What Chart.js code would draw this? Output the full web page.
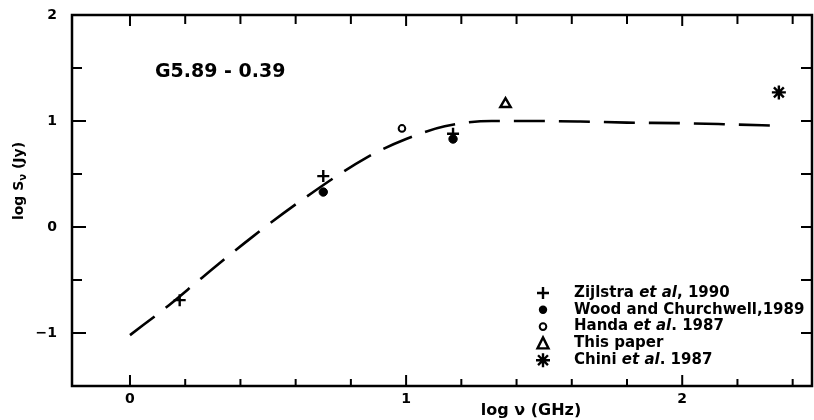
<!DOCTYPE html>
<html>
<head>
<meta charset="utf-8">
<script src="https://cdn.jsdelivr.net/npm/chart.js@4/dist/chart.umd.min.js"></script>
<style>
  html, body { margin: 0; padding: 0; background: #fff; }
  #wrap { width: 814px; height: 420px; }
</style>
</head>
<body>
<div id="wrap"><canvas id="chart"></canvas></div>
<script>
// fitted spectrum (dashed curve)
const fitLogNu = [0, 0.14, 0.26, 0.44, 0.62, 0.86, 1.0, 1.14, 1.31, 1.46, 1.63, 1.80, 1.98, 2.15, 2.36];
const fitLogS  = [-1.02, -0.74, -0.48, -0.10, 0.25, 0.66, 0.83, 0.95, 1.00, 1.00, 0.995, 0.985, 0.98, 0.97, 0.955];

// measurements
const zijNu = [0.18, 0.70, 1.17];
const zijS  = [-0.69, 0.48, 0.88];
const woodNu = [0.70, 1.17];
const woodS  = [0.33, 0.83];
const handaNu = [0.985];
const handaS  = [0.93];
const thisNu = [1.36];
const thisS  = [1.16];
const chiniNu = [2.35];
const chiniS  = [1.27];

const xTickLabels = [0, 1, 2];
const yTickLabels = [-1, 0, 1, 2];

const FONT = "'DejaVu Sans', sans-serif";

function pts(xs, ys) {
  return xs.map((x, i) => ({ x: x, y: ys[i] }));
}

// legend rows: [symbol, [text, italic?]...]
const legendRows = [
  ["cross",    [["Zijlstra ", false], ["et al", true], [", 1990", false]]],
  ["dot",      [["Wood and Churchwell,1989", false]]],
  ["ring",     [["Handa ", false], ["et al", true], [". 1987", false]]],
  ["triangle", [["This paper", false]]],
  ["star",     [["Chini ", false], ["et al", true], [". 1987", false]]],
];

function drawSymbol(ctx, kind, x, y) {
  ctx.save();
  ctx.strokeStyle = "#000";
  ctx.fillStyle = "#000";
  ctx.lineWidth = 2.4;
  ctx.beginPath();
  if (kind === "cross") {
    ctx.moveTo(x - 6, y); ctx.lineTo(x + 6, y);
    ctx.moveTo(x, y - 6); ctx.lineTo(x, y + 6);
    ctx.stroke();
  } else if (kind === "dot") {
    ctx.arc(x, y, 4.2, 0, Math.PI * 2);
    ctx.fill();
  } else if (kind === "ring") {
    ctx.lineWidth = 2;
    ctx.arc(x, y, 3.3, 0, Math.PI * 2);
    ctx.stroke();
  } else if (kind === "triangle") {
    ctx.moveTo(x, y - 6); ctx.lineTo(x + 5.5, y + 5); ctx.lineTo(x - 5.5, y + 5);
    ctx.closePath();
    ctx.stroke();
  } else if (kind === "star") {
    for (let k = 0; k < 4; k++) {
      const a = k * Math.PI / 4;
      ctx.moveTo(x - 7 * Math.cos(a), y - 7 * Math.sin(a));
      ctx.lineTo(x + 7 * Math.cos(a), y + 7 * Math.sin(a));
    }
    ctx.stroke();
  }
  ctx.restore();
}

const framePlugin = {
  id: "frame",
  afterDraw(chart) {
    const ctx = chart.ctx;
    const a = chart.chartArea;
    const xs = chart.scales.x, ys = chart.scales.y;
    ctx.save();
    ctx.strokeStyle = "#000";
    ctx.lineWidth = 2.5;
    ctx.strokeRect(a.left, a.top, a.right - a.left, a.bottom - a.top);

    // inward ticks
    ctx.lineWidth = 2;
    ctx.beginPath();
    for (let v = 0; v <= 2.41; v += 0.2) {
      const px = xs.getPixelForValue(v);
      const major = Math.abs(v - Math.round(v)) < 1e-6;
      ctx.moveTo(px, a.bottom); ctx.lineTo(px, a.bottom - (major ? 11 : 7));
      ctx.moveTo(px, a.top); ctx.lineTo(px, a.top + (major ? 11 : 9));
    }
    for (let v = -1; v <= 1.51; v += 0.5) {
      const py = ys.getPixelForValue(v);
      const major = Math.abs(v - Math.round(v)) < 1e-6;
      ctx.moveTo(a.left, py); ctx.lineTo(a.left + (major ? 14 : 10), py);
      ctx.moveTo(a.right, py); ctx.lineTo(a.right - 11, py);
    }
    ctx.stroke();

    // source name
    ctx.fillStyle = "#000";
    ctx.textBaseline = "middle";
    ctx.textAlign = "left";
    ctx.font = "bold 19px " + FONT;
    ctx.fillText("G5.89 - 0.39", 155, 72);

    // y axis title, rotated
    ctx.save();
    ctx.translate(19, 181);
    ctx.rotate(-Math.PI / 2);
    ctx.font = "bold 14px " + FONT;
    const t1 = "log S";
    const w1 = ctx.measureText(t1).width;
    ctx.font = "bold 10px " + FONT;
    const w2 = ctx.measureText("ν").width;
    ctx.font = "bold 14px " + FONT;
    const t3 = " (Jy)";
    const w3 = ctx.measureText(t3).width;
    let sx = -(w1 + w2 + w3) / 2;
    ctx.fillText(t1, sx, 0);
    ctx.font = "bold 10px " + FONT;
    ctx.fillText("ν", sx + w1, 4);
    ctx.font = "bold 14px " + FONT;
    ctx.fillText(t3, sx + w1 + w2, 0);
    ctx.restore();

    // x axis title
    ctx.font = "bold 16px " + FONT;
    ctx.textAlign = "center";
    ctx.fillText("log ν (GHz)", 531, 411);

    // legend
    ctx.textAlign = "left";
    legendRows.forEach((row, i) => {
      const y = 293 + i * 16.8;
      drawSymbol(ctx, row[0], 543, y);
      let x = 574;
      row[1].forEach(part => {
        ctx.font = (part[1] ? "italic " : "") + "bold 15px " + FONT;
        ctx.fillText(part[0], x, y);
        x += ctx.measureText(part[0]).width;
      });
    });
    ctx.restore();
  }
};

const canvas = document.getElementById("chart").getContext("2d");

const data = {
  datasets: [
    {
      type: "line",
      label: "fit",
      data: pts(fitLogNu, fitLogS),
      borderColor: "#000",
      borderWidth: 2.6,
      borderDash: [31, 14],
      pointRadius: 0,
      fill: false,
      cubicInterpolationMode: "monotone",
    },
    {
      label: "Zijlstra et al, 1990",
      data: pts(zijNu, zijS),
      pointStyle: "cross",
      radius: 6,
      borderColor: "#000",
      borderWidth: 2.4,
    },
    {
      label: "Wood and Churchwell,1989",
      data: pts(woodNu, woodS),
      pointStyle: "circle",
      radius: 4.2,
      backgroundColor: "#000",
      borderColor: "#000",
      borderWidth: 1,
    },
    {
      label: "Handa et al. 1987",
      data: pts(handaNu, handaS),
      pointStyle: "circle",
      radius: 3.3,
      backgroundColor: "#fff",
      borderColor: "#000",
      borderWidth: 2,
    },
    {
      label: "This paper",
      data: pts(thisNu, thisS),
      pointStyle: "triangle",
      radius: 6,
      backgroundColor: "#fff",
      borderColor: "#000",
      borderWidth: 2.4,
    },
    {
      label: "Chini et al. 1987",
      data: pts(chiniNu, chiniS),
      pointStyle: "star",
      radius: 7,
      borderColor: "#000",
      borderWidth: 2.4,
    },
  ],
};

const config = {
  type: "scatter",
  data: data,
  options: {
    responsive: true,
    maintainAspectRatio: false,
    animation: false,
    layout: { autoPadding: false, padding: { top: 15, right: 2, left: 0, bottom: 0 } },
    plugins: {
      legend: { display: false },
      tooltip: { enabled: false },
    },
    scales: {
      x: {
        type: "linear",
        min: -0.21,
        max: 2.47,
        afterFit: s => { s.height = 34; s.paddingLeft = 0; s.paddingRight = 0; },
        afterBuildTicks: s => { s.ticks = xTickLabels.map(v => ({ value: v })); },
        grid: { display: false, drawTicks: false },
        border: { display: false },
        ticks: {
          color: "#000",
          padding: 5,
          maxRotation: 0,
          font: { family: FONT, size: 14, weight: "bold" },
          callback: v => String(v),
        },
      },
      y: {
        type: "linear",
        min: -1.5,
        max: 2,
        afterFit: s => { s.width = 72; s.paddingTop = 0; s.paddingBottom = 0; },
        afterBuildTicks: s => { s.ticks = yTickLabels.map(v => ({ value: v })); },
        grid: { display: false, drawTicks: false },
        border: { display: false },
        ticks: {
          color: "#000",
          padding: 15,
          font: { family: FONT, size: 14, weight: "bold" },
          callback: v => (v < 0 ? "\u2212" + Math.abs(v) : String(v)),
        },
      },
    },
  },
  plugins: [framePlugin],
};

const chart = new Chart(canvas, config);
</script>
</body>
</html>
